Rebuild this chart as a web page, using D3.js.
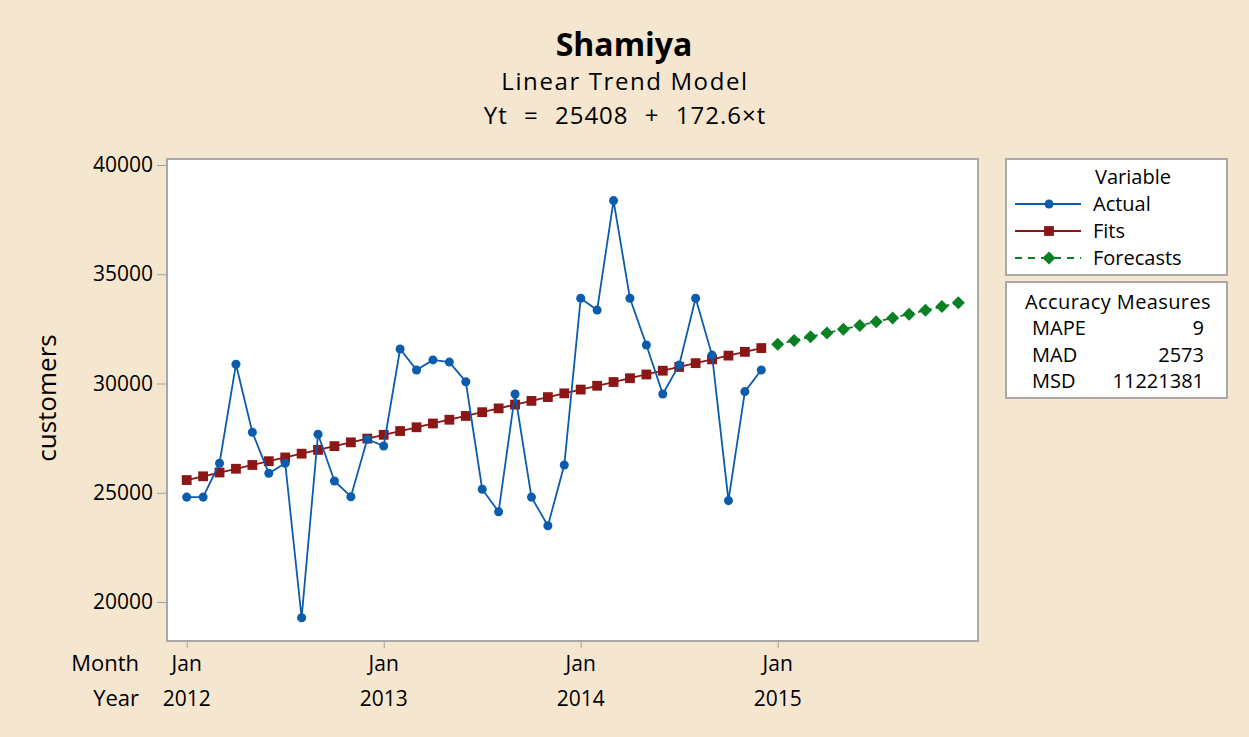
<!DOCTYPE html>
<html>
<head>
<meta charset="utf-8">
<script src="https://cdn.jsdelivr.net/npm/d3@7"></script>
<style>
  body { margin: 0; background: #f5e6d0; }
  svg text { font-family: "Open Sans", "Noto Sans", sans-serif; fill: #000; }
</style>
</head>
<body>
<div id="chart"></div>
<script>
// data //

// actual customers per month, Jan 2012 - Dec 2014
var actual = [24800, 24800, 26350, 30880, 27770, 25890, 26350, 19280, 27680, 25540, 24820, 27450,
              27140, 31580, 30620, 31080, 30980, 30080, 25160, 24130, 29520, 24800, 23490, 26270,
              33900, 33360, 38370, 33900, 31760, 29520, 30850, 33900, 31300, 24640, 29630, 30620];

// fitted trend values, t = 1..36
var fits = [25581, 25753, 25926, 26098, 26271, 26444, 26616, 26789, 26961, 27134, 27307, 27479,
            27652, 27824, 27997, 28170, 28342, 28515, 28687, 28860, 29033, 29205, 29378, 29550,
            29723, 29896, 30068, 30241, 30413, 30586, 30759, 30931, 31104, 31276, 31449, 31622];

// forecasts, t = 37..48 (Jan 2015 - Dec 2015)
var forecasts = [31794, 31967, 32139, 32312, 32485, 32657, 32830, 33002, 33175, 33348, 33520, 33693];

var yTicks = [20000, 25000, 30000, 35000, 40000];
var xTicks = [1, 13, 25, 37];
var monthLabels = ["Jan", "Jan", "Jan", "Jan"];
var yearLabels = ["2012", "2013", "2014", "2015"];

var legendNames = ["Actual", "Fits", "Forecasts"];
var measureNames = ["MAPE", "MAD", "MSD"];
var measureValues = ["9", "2573", "11221381"];

var blue = "#0b5cad", red = "#8c1515", green = "#0a8024";

// draw the chart //
    function makeTrendChart(){
        var width = 1249, height = 737;
        var left = 167, right = 978, top = 159, bottom = 641;

        var svg = d3.select("#chart")
                .append("svg")
                .attr("width", width)
                .attr("height", height);

        svg.append("rect")
            .attr("width", width).attr("height", height)
            .style("fill", "#f5e6d0");

        var x = d3.scaleLinear().domain([-0.2, 49.2]).range([left, right]);
        var y = d3.scaleLinear().domain([18215, 40275]).range([bottom, top]);

        // plot area
        svg.append("rect")
            .attr("x", left).attr("y", top)
            .attr("width", right - left).attr("height", bottom - top)
            .style("fill", "#fff")
            .style("stroke", "#a9a9a9")
            .style("stroke-width", 2);

        // y axis
        var yAxis = d3.axisLeft(y).tickValues(yTicks).tickSize(9).tickPadding(4).tickFormat(d3.format("d"));
        var gy = svg.append("g")
                .attr("transform", "translate(" + (left - 1) + ",0)")
                .call(yAxis);
        gy.select(".domain").remove();
        gy.selectAll(".tick line").style("stroke", "#a0a0a0");
        gy.selectAll(".tick text").style("font-size", "21px").style("fill", "#000");

        // x axis, ticks only at January
        var xAxis = d3.axisBottom(x).tickValues(xTicks).tickSize(6).tickFormat("");
        var gx = svg.append("g")
                .attr("transform", "translate(0," + (bottom + 1) + ")")
                .call(xAxis);
        gx.select(".domain").remove();
        gx.selectAll(".tick line").style("stroke", "#a0a0a0");

        svg.selectAll(".month")
            .data(xTicks)
            .enter()
            .append("text")
            .attr("x", function(d){ return x(d); })
            .attr("y", 671)
            .attr("text-anchor", "middle")
            .style("font-size", "21px")
            .text(function(d, i){ return monthLabels[i]; });

        svg.selectAll(".year")
            .data(xTicks)
            .enter()
            .append("text")
            .attr("x", function(d){ return x(d); })
            .attr("y", 706)
            .attr("text-anchor", "middle")
            .style("font-size", "21px")
            .text(function(d, i){ return yearLabels[i]; });

        svg.append("text").attr("x", 139).attr("y", 671).attr("text-anchor", "end")
            .style("font-size", "22px").text("Month");
        svg.append("text").attr("x", 139).attr("y", 706).attr("text-anchor", "end")
            .style("font-size", "22px").text("Year");

        svg.append("text")
            .attr("transform", "translate(56,398) rotate(-90)")
            .attr("text-anchor", "middle")
            .style("font-size", "26px")
            .text("customers");

        // titles
        svg.append("text").attr("x", 624).attr("y", 56).attr("text-anchor", "middle")
            .style("font-size", "32px").style("font-weight", "bold").text("Shamiya");
        svg.append("text").attr("x", 625).attr("y", 90).attr("text-anchor", "middle")
            .style("font-size", "24px").style("letter-spacing", "1.6px").text("Linear Trend Model");
        svg.append("text").attr("x", 625).attr("y", 124).attr("text-anchor", "middle")
            .style("font-size", "24px").style("letter-spacing", "1px").style("word-spacing", "9px")
            .text("Yt = 25408 + 172.6\u00d7t");

        // series
        var line = d3.line()
                .x(function(d){ return x(d.t); })
                .y(function(d){ return y(d.v); });

        var actualData = actual.map(function(v, i){ return {t: i + 1, v: v}; });
        var fitsData = fits.map(function(v, i){ return {t: i + 1, v: v}; });
        var foreData = forecasts.map(function(v, i){ return {t: i + 37, v: v}; });

        var square = d3.symbol().type(d3.symbolSquare).size(96);
        var circle = d3.symbol().type(d3.symbolCircle).size(64);
        // wide diamond like Minitab's
        var diamond = "M0,-6.5L6.5,0L0,6.5L-6.5,0Z";

        svg.append("path").datum(fitsData).attr("d", line)
            .style("fill", "none").style("stroke", red).style("stroke-width", 1.8);
        svg.selectAll(".fit").data(fitsData).enter().append("path")
            .attr("transform", function(d){ return "translate(" + x(d.t) + "," + y(d.v) + ")"; })
            .attr("d", square).style("fill", red);

        svg.append("path").datum(foreData).attr("d", line)
            .style("fill", "none").style("stroke", green).style("stroke-width", 1.8)
            .style("stroke-dasharray", "5,4");
        svg.selectAll(".fore").data(foreData).enter().append("path")
            .attr("transform", function(d){ return "translate(" + x(d.t) + "," + y(d.v) + ")"; })
            .attr("d", diamond).style("fill", green);

        svg.append("path").datum(actualData).attr("d", line)
            .style("fill", "none").style("stroke", blue).style("stroke-width", 1.8);
        svg.selectAll(".act").data(actualData).enter().append("path")
            .attr("transform", function(d){ return "translate(" + x(d.t) + "," + y(d.v) + ")"; })
            .attr("d", circle).style("fill", blue);

        // legend
        var lg = svg.append("g");
        lg.append("rect").attr("x", 1006).attr("y", 159).attr("width", 221).attr("height", 116)
            .style("fill", "#fff").style("stroke", "#a9a9a9").style("stroke-width", 2);
        lg.append("text").attr("x", 1133).attr("y", 184).attr("text-anchor", "middle")
            .style("font-size", "20px").text("Variable");

        var colors = [blue, red, green];
        var shapes = [circle, square, diamond];
        legendNames.forEach(function(name, i){
            var ly = 204 + i * 27;
            lg.append("line").attr("x1", 1015).attr("x2", 1081).attr("y1", ly).attr("y2", ly)
                .style("stroke", colors[i]).style("stroke-width", 1.8)
                .style("stroke-dasharray", i == 2 ? "7,6" : null);
            lg.append("path").attr("transform", "translate(1049," + ly + ")")
                .attr("d", shapes[i]).style("fill", colors[i]);
            lg.append("text").attr("x", 1093).attr("y", ly + 7)
                .style("font-size", "20px").text(name);
        });

        // accuracy measures
        var ag = svg.append("g");
        ag.append("rect").attr("x", 1006).attr("y", 282).attr("width", 221).attr("height", 116)
            .style("fill", "#fff").style("stroke", "#a9a9a9").style("stroke-width", 2);
        ag.append("text").attr("x", 1118).attr("y", 309).attr("text-anchor", "middle")
            .style("font-size", "20px").style("letter-spacing", "0.4px").text("Accuracy Measures");
        measureNames.forEach(function(name, i){
            var my = 335 + i * 26.5;
            ag.append("text").attr("x", 1032).attr("y", my)
                .style("font-size", "20px").text(name);
            ag.append("text").attr("x", 1204).attr("y", my).attr("text-anchor", "end")
                .style("font-size", "20px").text(measureValues[i]);
        });
    }

    makeTrendChart();
</script>
</body>
</html>
